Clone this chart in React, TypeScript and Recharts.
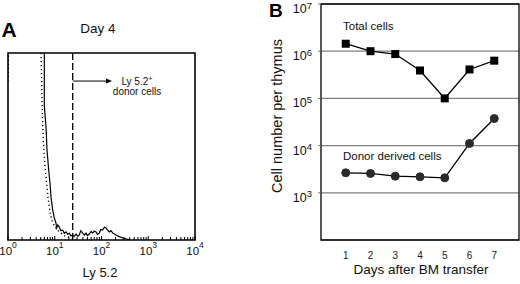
import React from 'react';
import { LineChart, Line, XAxis, YAxis, CartesianGrid, ReferenceArea, ReferenceLine } from 'recharts';

// ---------- Panel A: Ly 5.2 histogram (Day 4) ----------
const solidFluor = [5.98, 5.98, 6.5, 6.83, 7.42, 7.91, 8.31, 9.04, 9.78, 10.6, 11.0, 11.6, 12.5, 13.4, 14.8, 16.0, 17.4, 19.0, 20.5, 22.0, 24.2, 26.0, 28.5, 31.0, 33.5, 36.0, 39.6, 43.0, 46.6, 50.0, 54.8, 60.0, 64.8, 70.0, 76.3, 82.0, 89.7, 97.0, 106, 115, 125, 136, 147, 160, 174, 190, 204, 240, 284, 407];
const solidCount = [130, 72, 60.4, 48.1, 37.4, 30.5, 23.0, 16.0, 11.8, 9.1, 6.5, 8.0, 7.0, 5.0, 5.3, 3.6, 4.3, 3.0, 3.7, 2.2, 2.7, 1.8, 3.2, 2.0, 2.7, 5.0, 3.7, 2.6, 3.7, 2.4, 3.2, 4.6, 3.7, 4.8, 4.3, 3.0, 3.7, 5.6, 5.3, 6.8, 6.4, 5.2, 4.3, 5.0, 3.7, 3.2, 2.7, 1.8, 1.1, 0];
const dottedFluor = [1.0, 1.06, 5.08, 5.08, 5.26, 5.34, 5.52, 5.69, 5.98, 6.28, 6.73, 7.17, 7.64, 8.31, 9.04, 10.6, 12.5, 16.6, 27.1];
const dottedCount = [85, 130, 130, 100, 84, 74.9, 62.6, 53.5, 44.4, 37.4, 30.5, 23.0, 17.6, 12.3, 9.1, 6.4, 4.3, 2.1, 0.5];
const gateFluor = 24.2;
const arrowEndFluor = 168;
const arrowCount = 85;
const xTicksA = [1, 2, 3, 4, 5, 6, 7, 8, 9, 10, 20, 30, 40, 50, 60, 70, 80, 90, 100, 200, 300, 400, 500, 600, 700, 800, 900, 1000, 2000, 3000, 4000, 5000, 6000, 7000, 8000, 9000, 10000];

// ---------- Panel B: cell number per thymus ----------
const days = [1, 2, 3, 4, 5, 6, 7];
const totalCells = [1.44e6, 1.0e6, 8.7e5, 3.9e5, 1.0e5, 4.1e5, 6.3e5];
const donorCells = [2650, 2570, 2250, 2180, 2075, 11100, 37400];
const yTicksB = [1e3, 1e4, 1e5, 1e6, 1e7];

const solidData = solidFluor.map((x, i) => ({ x, c: solidCount[i] }));
const dottedData = dottedFluor.map((x, i) => ({ x, c: dottedCount[i] }));
const dataB = days.map((d, i) => ({ day: d, total: totalCells[i], donor: donorCells[i] }));

const SANS = '"Liberation Sans", Arial, Helvetica, sans-serif';
const NARROW = '"Liberation Sans Narrow", "Arial Narrow", "Liberation Sans", sans-serif';

const LogTickA = (props: any) => {
  const { x, y, payload } = props;
  const lg = Math.log10(payload.value);
  const e = Math.round(lg);
  const major = Math.abs(lg - e) < 1e-6;
  return (
    <g>
      <line x1={x} x2={x} y1={y} y2={y - (major ? 4 : 3)} stroke="#000" strokeWidth={1} />
      {major && (
        <text x={x} y={y + 15} textAnchor="middle" fontSize={11.5} fontFamily={NARROW} fill="#111">
          <tspan>10</tspan>
          <tspan dy={-7} fontSize={8.5}>{e}</tspan>
        </text>
      )}
    </g>
  );
};

const LogTickB = (props: any) => {
  const { x, y, payload } = props;
  const e = Math.round(Math.log10(payload.value));
  return (
    <text x={x} y={y + 9} textAnchor="end" fontSize={12.5} fontFamily={NARROW} fill="#111">
      <tspan>10</tspan>
      <tspan dy={-4.5} fontSize={9.5}>{e}</tspan>
    </text>
  );
};

const DayTick = (props: any) => {
  const { x, y, payload } = props;
  return (
    <text x={x} y={y} dy="0.71em" textAnchor="middle" fontSize={10} fontFamily={SANS} fill="#222">
      {payload.value}
    </text>
  );
};

const ArrowShape = (props: any) => {
  const { x1, y1, x2, y2 } = props;
  return (
    <g>
      <line x1={x1} y1={y1} x2={x2 - 4} y2={y2} stroke="#000" strokeWidth={1} />
      <polygon points={`${x2},${y2} ${x2 - 6},${y2 - 2.5} ${x2 - 6},${y2 + 2.5}`} fill="#000" />
      <text x={x2 + 25} y={y2 + 3.5} textAnchor="middle" fontSize={10} fontFamily={SANS} fill="#111">
        <tspan>Ly 5.2</tspan>
        <tspan dy={-4} fontSize={7.5}>+</tspan>
      </text>
      <text x={x2 + 25} y={y2 + 14} textAnchor="middle" fontSize={10} fontFamily={SANS} fill="#111">
        donor cells
      </text>
    </g>
  );
};

const SquareDot = (props: any) => {
  const { cx, cy, index } = props;
  if (cx == null || cy == null) return <g key={index} />;
  return <rect key={index} x={cx - 4} y={cy - 4} width={8} height={8} fill="#000" />;
};

export default function App() {
  return (
    <div style={{ position: 'absolute', left: 0, top: 0, width: 520, height: 284, background: '#fff', fontFamily: SANS }}>
      <div style={{ position: 'absolute', left: 0, top: 0 }}>
        <LineChart width={260} height={284} margin={{ top: 53, left: 8, right: 65, bottom: 24 }}>
          <XAxis
            dataKey="x"
            type="number"
            scale="log"
            domain={[1, 10000]}
            ticks={xTicksA}
            interval={0}
            tick={(p: any) => <LogTickA {...p} />}
            tickLine={false}
            axisLine={false}
            tickSize={0}
            tickMargin={0}
            height={20}
            allowDataOverflow
          />
          <YAxis type="number" domain={[0, 100]} hide allowDataOverflow />
          <ReferenceArea x1={1} x2={10000} y1={0} y2={100} fill="none" stroke="#000" strokeWidth={1.6} ifOverflow="visible" />
          <ReferenceLine x={gateFluor} stroke="#000" strokeWidth={1.3} strokeDasharray="7 3" />
          <ReferenceLine
            segment={[{ x: gateFluor, y: arrowCount }, { x: arrowEndFluor, y: arrowCount }]}
            shape={(p: any) => <ArrowShape {...p} />}
          />
          <Line data={dottedData} dataKey="c" type="linear" stroke="#000" strokeWidth={1.4} strokeDasharray="1.2 2.8" dot={false} isAnimationActive={false} />
          <Line data={solidData} dataKey="c" type="linear" stroke="#000" strokeWidth={1.2} dot={false} isAnimationActive={false} />
        </LineChart>
      </div>
      <div style={{ position: 'absolute', left: 260, top: 0 }}>
        <LineChart width={260} height={284} data={dataB} margin={{ top: 4, left: 0, right: 1, bottom: 14 }}>
          <CartesianGrid vertical={false} stroke="#808080" strokeWidth={1.2} />
          <XAxis
            dataKey="day"
            type="number"
            domain={[0, 8]}
            ticks={days}
            interval={0}
            tick={(p: any) => <DayTick {...p} />}
            tickLine={false}
            axisLine={false}
            tickSize={0}
            tickMargin={12}
            height={30}
          />
          <YAxis
            type="number"
            scale="log"
            domain={[100, 1e7]}
            ticks={yTicksB}
            interval={0}
            width={61}
            tickSize={3}
            tickMargin={6}
            tickLine={{ stroke: '#777' }}
            axisLine={false}
            tick={(p: any) => <LogTickB {...p} />}
            allowDataOverflow
          />
          <ReferenceArea x1={0} x2={8} y1={100} y2={1e7} fill="none" stroke="#000" strokeWidth={1.3} ifOverflow="visible" />
          <Line dataKey="total" type="linear" stroke="#000" strokeWidth={1.3} dot={(p: any) => <SquareDot {...p} />} isAnimationActive={false} />
          <Line dataKey="donor" type="linear" stroke="#000" strokeWidth={1.3} dot={{ r: 4, fill: '#2a2a2a', stroke: '#2a2a2a', strokeWidth: 1 }} isAnimationActive={false} />
        </LineChart>
      </div>
      <svg width={520} height={284} style={{ position: 'absolute', left: 0, top: 0, pointerEvents: 'none' }}>
        <text x={1.5} y={36.7} fontSize={21} fontWeight="bold" fontFamily={SANS} fill="#000">A</text>
        <text x={98} y={33} textAnchor="middle" fontSize={13.5} fontFamily={SANS} fill="#111">Day 4</text>
        <text x={100} y={277} textAnchor="middle" fontSize={13} fontFamily={SANS} fill="#111">Ly 5.2</text>
        <text x={269} y={17} fontSize={19} fontWeight="bold" fontFamily={SANS} fill="#000">B</text>
        <text transform="translate(282,116) rotate(-90)" textAnchor="middle" fontSize={14.5} fontFamily={SANS} fill="#111">Cell number per thymus</text>
        <text x={421} y={273.5} textAnchor="middle" fontSize={13.5} fontFamily={SANS} fill="#111">Days after BM transfer</text>
        <text x={343} y={30} fontSize={11.5} fontFamily={SANS} fill="#111">Total cells</text>
        <text x={343} y={160} fontSize={11.5} fontFamily={SANS} fill="#111">Donor derived cells</text>
      </svg>
    </div>
  );
}
